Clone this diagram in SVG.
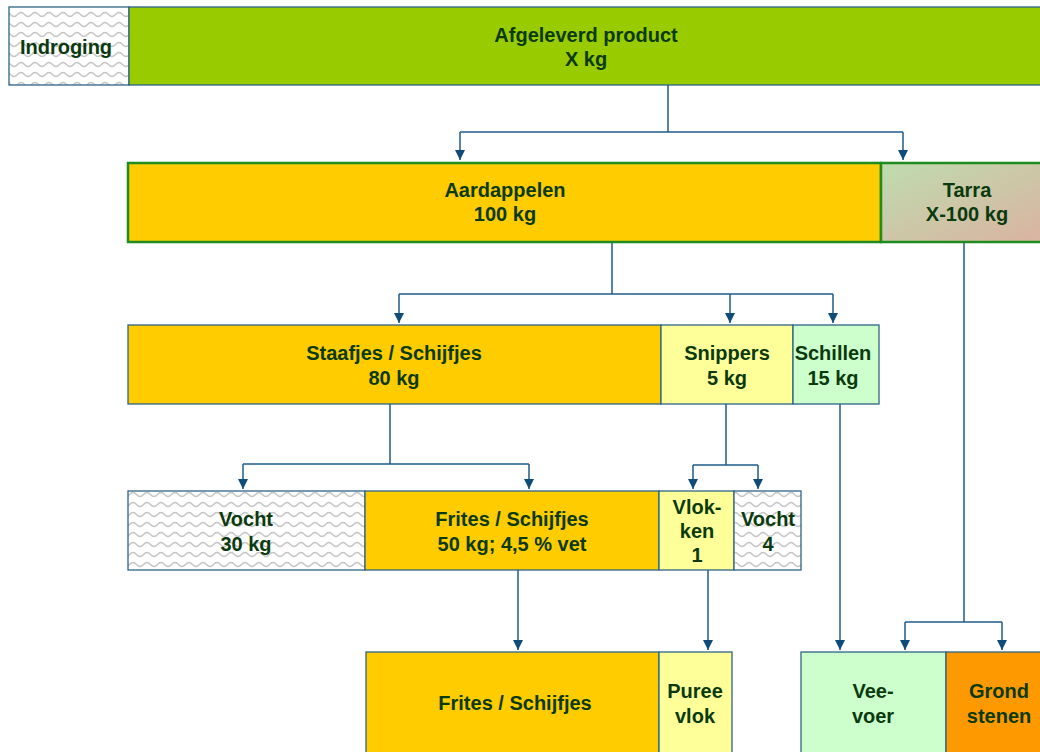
<svg xmlns="http://www.w3.org/2000/svg" width="1040" height="752" viewBox="0 0 1040 752">
  <defs>
    <pattern id="wave" width="14" height="10" patternUnits="userSpaceOnUse">
      <rect width="14" height="10" fill="#ffffff"/>
      <path d="M0 6.5 Q1.75 6.5 3.5 4.5 T7 2.5 Q8.75 2.5 10.5 4.5 T14 6.5" fill="none" stroke="#c6c6c6" stroke-width="1.4"/>
    </pattern>
    <linearGradient id="tarra" x1="0" y1="0" x2="1" y2="1">
      <stop offset="0" stop-color="#bedcae"/>
      <stop offset="1" stop-color="#dbb1a1"/>
    </linearGradient>
    <marker id="arr" viewBox="0 0 10 10" refX="10" refY="5" markerWidth="10" markerHeight="10" markerUnits="userSpaceOnUse" orient="auto">
      <path d="M0 0 L10 5 L0 10 Z" fill="#0f4c7a"/>
    </marker>
    <style>
      .b { stroke: #2d6486; stroke-width: 1.3; }
      .g { stroke: #1e8c1e; stroke-width: 2.5; }
      .t { font-family: "Liberation Sans", Arial, sans-serif; font-weight: bold; font-size: 20px; fill: #0a3a0e; text-anchor: middle; }
      .c { fill: none; stroke: #1f5c8b; stroke-width: 1.5; }
      .a { marker-end: url(#arr); }
    </style>
  </defs>

  <!-- top row -->
  <g id="indroging">
    <rect class="b" x="9" y="7" width="120" height="78" fill="url(#wave)"/>
    <text class="t" x="66" y="54">Indroging</text>
  </g>
  <g id="afgeleverd">
    <rect class="b" x="129" y="7" width="920" height="78" fill="#99cc00"/>
    <text class="t" x="586" y="42">Afgeleverd product</text>
    <text class="t" x="586" y="66">X kg</text>
  </g>

  <!-- second row -->
  <g id="aardappelen">
    <rect class="g" x="128" y="163" width="753" height="79" fill="#ffcc00"/>
    <text class="t" x="505" y="197">Aardappelen</text>
    <text class="t" x="505" y="221">100 kg</text>
  </g>
  <g id="tarra-node">
    <rect class="g" x="881" y="163" width="170" height="79" fill="url(#tarra)"/>
    <text class="t" x="967" y="197">Tarra</text>
    <text class="t" x="967" y="221">X-100 kg</text>
  </g>

  <!-- third row -->
  <g id="staafjes">
    <rect class="b" x="128" y="325" width="533" height="79" fill="#ffcc00"/>
    <text class="t" x="394" y="360">Staafjes / Schijfjes</text>
    <text class="t" x="394" y="385">80 kg</text>
  </g>
  <g id="snippers">
    <rect class="b" x="661" y="325" width="132" height="79" fill="#ffff99"/>
    <text class="t" x="727" y="360">Snippers</text>
    <text class="t" x="727" y="385">5 kg</text>
  </g>
  <g id="schillen">
    <rect class="b" x="793" y="325" width="86" height="79" fill="#ccffcc"/>
    <text class="t" x="833" y="360">Schillen</text>
    <text class="t" x="833" y="385">15 kg</text>
  </g>

  <!-- fourth row -->
  <g id="vocht30">
    <rect class="b" x="128" y="491" width="237" height="79" fill="url(#wave)"/>
    <text class="t" x="246" y="526">Vocht</text>
    <text class="t" x="246" y="551">30 kg</text>
  </g>
  <g id="frites50">
    <rect class="b" x="365" y="491" width="294" height="79" fill="#ffcc00"/>
    <text class="t" x="512" y="526">Frites / Schijfjes</text>
    <text class="t" x="512" y="551">50 kg; 4,5 % vet</text>
  </g>
  <g id="vlokken">
    <rect class="b" x="659" y="491" width="75" height="79" fill="#ffff99"/>
    <text class="t" x="697" y="514">Vlok-</text>
    <text class="t" x="697" y="538">ken</text>
    <text class="t" x="697" y="562">1</text>
  </g>
  <g id="vocht4">
    <rect class="b" x="734" y="491" width="67" height="79" fill="url(#wave)"/>
    <text class="t" x="768" y="526">Vocht</text>
    <text class="t" x="768" y="551">4</text>
  </g>

  <!-- bottom row -->
  <g id="frites-eind">
    <rect class="b" x="366" y="652" width="293" height="110" fill="#ffcc00"/>
    <text class="t" x="515" y="710">Frites / Schijfjes</text>
  </g>
  <g id="pureevlok">
    <rect class="b" x="659" y="652" width="73" height="110" fill="#ffff99"/>
    <text class="t" x="695" y="698">Puree</text>
    <text class="t" x="695" y="723">vlok</text>
  </g>
  <g id="veevoer">
    <rect class="b" x="801" y="652" width="145" height="110" fill="#ccffcc"/>
    <text class="t" x="873" y="698">Vee-</text>
    <text class="t" x="873" y="723">voer</text>
  </g>
  <g id="grondstenen">
    <rect class="b" x="946" y="652" width="105" height="110" fill="#ff9900"/>
    <text class="t" x="999" y="698">Grond</text>
    <text class="t" x="999" y="723">stenen</text>
  </g>

  <!-- connectors -->
  <g id="connectors">
    <path class="c" d="M668 85 V132 M460 132 H903"/>
    <path class="c a" d="M460 132 V160"/>
    <path class="c a" d="M903 132 V160"/>

    <path class="c" d="M612 243 V294 M399 294 H833"/>
    <path class="c a" d="M399 294 V323"/>
    <path class="c a" d="M730 294 V323"/>
    <path class="c a" d="M833 294 V323"/>

    <path class="c" d="M390 404 V464 M243 464 H529"/>
    <path class="c a" d="M243 464 V489"/>
    <path class="c a" d="M529 464 V489"/>

    <path class="c" d="M726 404 V465 M693 465 H758"/>
    <path class="c a" d="M693 465 V489"/>
    <path class="c a" d="M758 465 V489"/>

    <path class="c a" d="M518 570 V650"/>
    <path class="c a" d="M708 570 V650"/>
    <path class="c a" d="M840 404 V650"/>

    <path class="c" d="M964 243 V622 M905 622 H1002"/>
    <path class="c a" d="M905 622 V650"/>
    <path class="c a" d="M1002 622 V650"/>
  </g>
</svg>
